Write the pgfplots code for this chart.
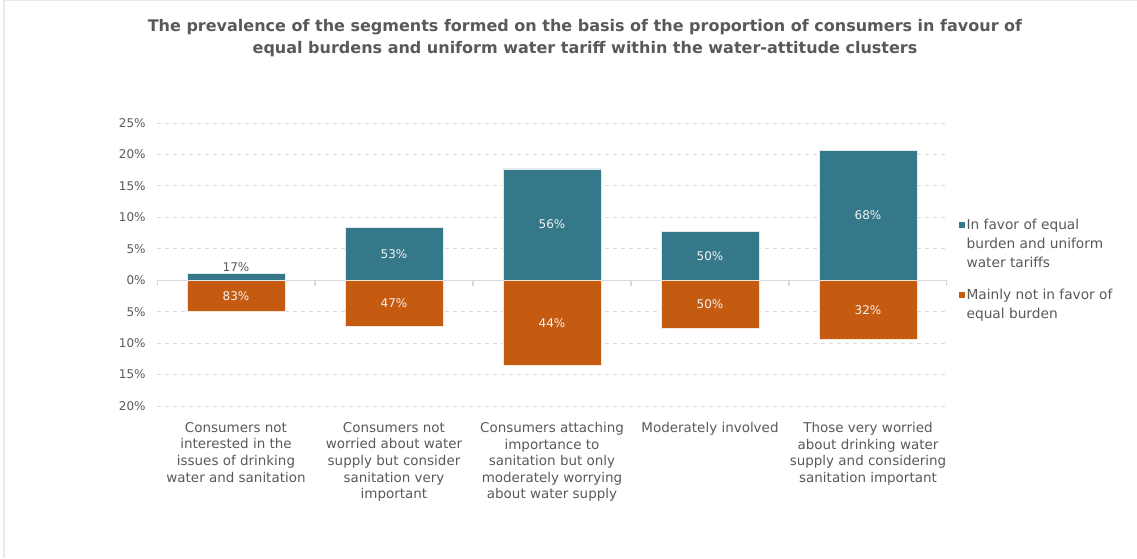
\documentclass[border=0pt]{standalone}
\usepackage{pgfplots}
\pgfplotsset{compat=1.18}
\usepackage{fontspec}
\setmainfont{DejaVu Sans}
\definecolor{teal1}{RGB}{53,120,137}
\definecolor{orng}{RGB}{197,90,17}
\definecolor{txt}{RGB}{89,89,89}
\definecolor{grd}{RGB}{217,217,217}
\definecolor{frame}{RGB}{230,234,240}
\pgfplotstableread{
x y lab
1 8.4 53\%
2 17.7 56\%
3 7.8 50\%
4 20.7 68\%
}\favor
\pgfplotstableread{
x y lab
0 -5.0 83\%
1 -7.3 47\%
2 -13.6 44\%
3 -7.7 50\%
4 -9.4 32\%
}\notfavor
\begin{document}
\begin{tikzpicture}
\path[use as bounding box] (0,0) rectangle (852.75pt,418.5pt);
\draw[frame, line width=1pt] (3pt,0pt) -- (3pt,418pt) -- (852.75pt,418pt);
\node[font=\bfseries\fontsize{12}{16.5}\selectfont, text=txt, align=center] at (438.75pt,390pt)
 {The prevalence of the segments formed on the basis of the proportion of consumers in favour of\\equal burdens and uniform water tariff within the water-attitude clusters};
\begin{axis}[
  at={(117.75pt,114pt)}, anchor=south west,
  scale only axis, width=592.5pt, height=212.25pt,
  xmin=-0.5, xmax=4.5, ymin=-20, ymax=25,
  ybar, bar width=73.5pt,
  axis line style={draw=none},
  xtick={0,1,2,3,4},
  xticklabels={{Consumers not\\interested in the\\issues of drinking\\water and sanitation},
    {Consumers not\\worried about water\\supply but consider\\sanitation very\\important},
    {Consumers attaching\\importance to\\sanitation but only\\moderately worrying\\about water supply},
    {Moderately involved},
    {Those very worried\\about drinking water\\supply and considering\\sanitation important}},
  xticklabel style={align=center, font=\fontsize{10.1}{12.4}\selectfont, text=txt, anchor=north, yshift=-4.5pt},
  ytick={-20,-15,...,25},
  yticklabels={20\%,15\%,10\%,5\%,0\%,5\%,10\%,15\%,20\%,25\%},
  yticklabel style={font=\fontsize{9}{11}\selectfont, text=txt, xshift=-5pt},
  major tick style={draw=none},
  ymajorgrids, grid style={dashed, grd, line width=0.6pt},
  legend cell align=left,
  legend style={draw=none, fill=none, at={(1.0101,0.6857)}, anchor=north west,
    font=\fontsize{10.3}{14.25}\selectfont, text=txt, row sep=39.25pt,
    cells={anchor=base west}, nodes={inner sep=1pt}},
  legend image code/.code={\fill[#1, draw=none] (-2.75pt,0.25ex) rectangle (1.75pt,0.25ex+4.5pt);},
  nodes near coords,
  point meta=explicit symbolic,
  visualization depends on={rawy \as \ry},
  every node near coord/.append style={anchor=center, yshift=-\ry*2.35833pt,
     font=\fontsize{9}{11}\selectfont, text=white!95!black},
]
\draw[grd, line width=0.8pt] (axis cs:-0.5,0) -- (axis cs:4.5,0);
\pgfplotsinvokeforeach{-0.5,0.5,1.5,2.5,3.5,4.5}{\draw[grd, line width=0.8pt] (axis cs:#1,0) -- ++(0pt,-4pt);}
\addplot[fill=teal1, draw=white!85!teal1, line width=0.6pt, bar shift=0pt]
  table[x=x, y=y, meta=lab] {\favor};
\addlegendentry{\begin{tabular}[t]{@{}l@{}}In favor of equal\\burden and uniform\\water tariffs\end{tabular}}
\addplot[fill=orng, draw=white!85!orng, line width=0.6pt, bar shift=0pt]
  table[x=x, y=y, meta=lab] {\notfavor};
\addlegendentry{\begin{tabular}[t]{@{}l@{}}Mainly not in favor of\\equal burden\end{tabular}}
\addplot[fill=teal1, draw=white!85!teal1, line width=0.6pt, bar shift=0pt, forget plot,
  every node near coord/.append style={anchor=south, yshift=0pt, text=txt}]
  coordinates {(0,1.1) [17\%]};
\end{axis}
\end{tikzpicture}
\end{document}
